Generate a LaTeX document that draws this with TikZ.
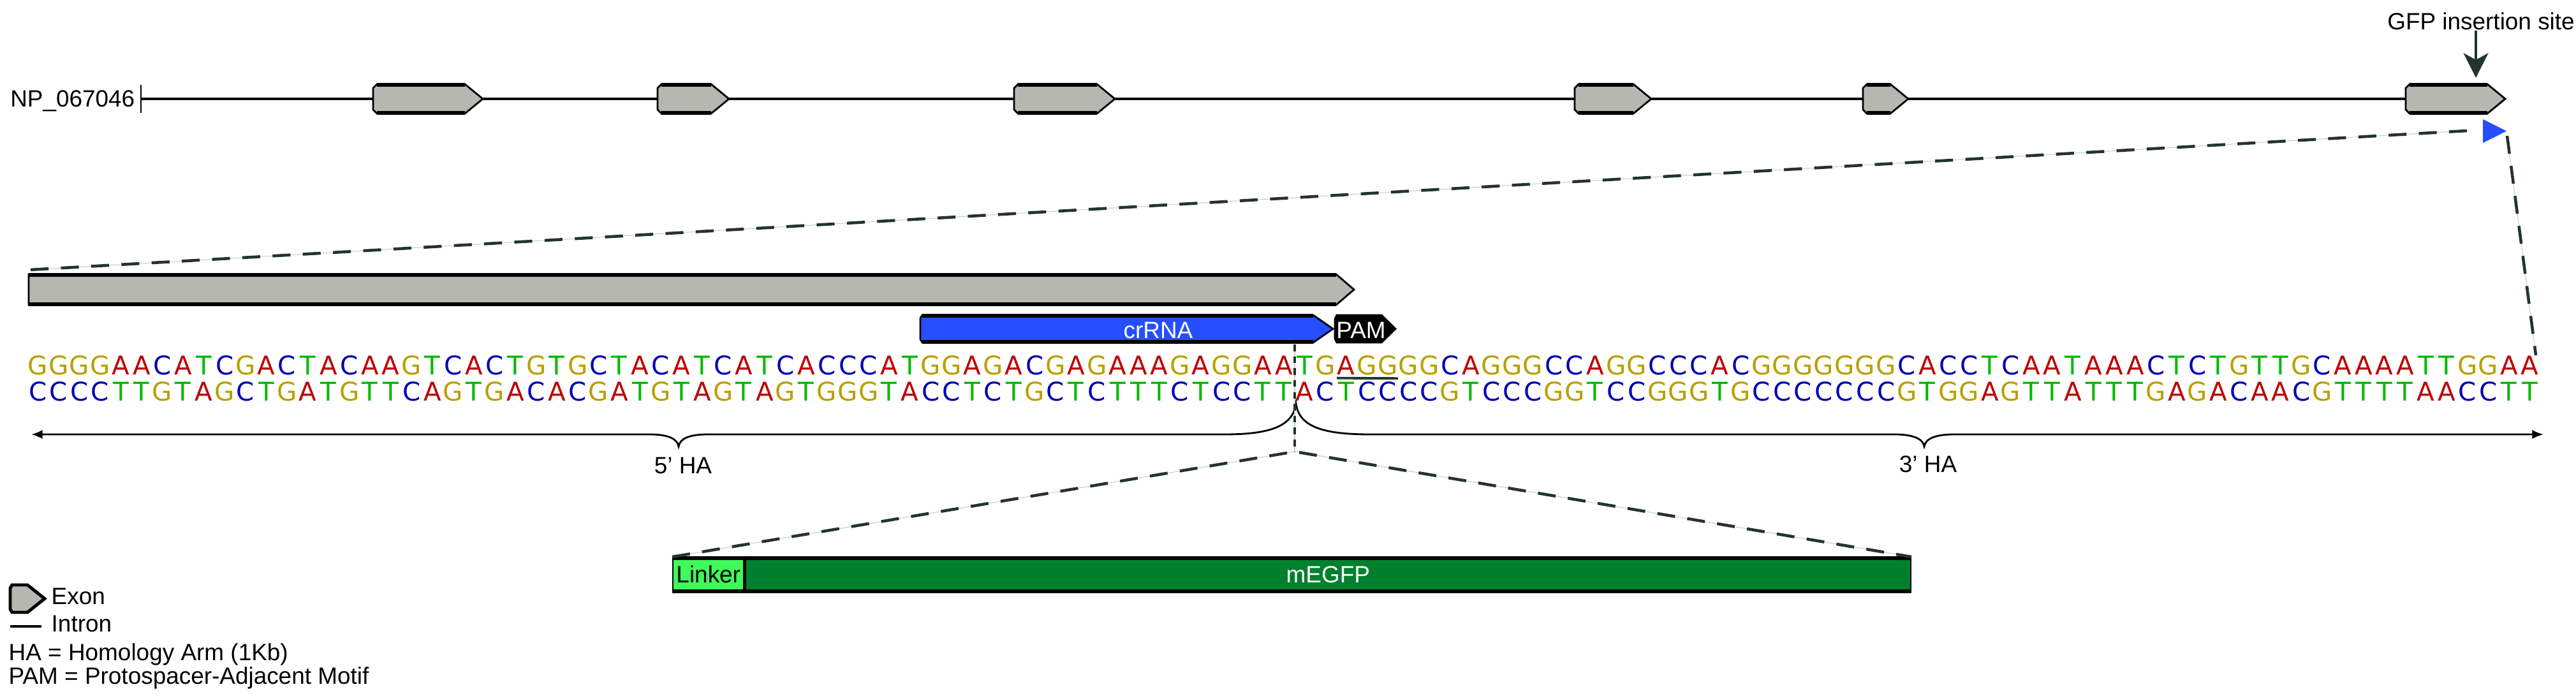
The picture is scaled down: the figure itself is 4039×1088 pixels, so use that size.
\documentclass[tikz,border=0pt]{standalone}
\usepackage{fontspec}
\setmainfont{Liberation Sans}
\newfontfamily\seqfont{DejaVu Sans}
\usetikzlibrary{arrows.meta}

\definecolor{grigio}{RGB}{182,183,177}
\definecolor{scuro}{RGB}{35,52,46}
\definecolor{blu}{RGB}{37,78,255}
\definecolor{verdechiaro}{RGB}{64,250,90}
\definecolor{verdescuro}{RGB}{0,128,45}
\definecolor{ntA}{RGB}{190,0,0}
\definecolor{ntC}{RGB}{0,0,180}
\definecolor{ntG}{RGB}{185,160,0}
\definecolor{ntT}{RGB}{0,185,0}

% basi complementari
\def\cmpA{T}\def\cmpC{G}\def\cmpG{C}\def\cmpT{A}

% filamento superiore
\def\seqtop{G,G,G,G,A,A,C,A,T,C,G,A,C,T,A,C,A,A,G,T,%
C,A,C,T,G,T,G,C,T,A,C,A,T,C,A,T,C,A,C,C,%
C,A,T,G,G,A,G,A,C,G,A,G,A,A,A,G,A,G,G,A,%
A,T,G,A,G,G,G,G,C,A,G,G,G,C,C,A,G,G,C,C,%
C,A,C,G,G,G,G,G,G,G,C,A,C,C,T,C,A,A,T,A,%
A,A,C,T,C,T,G,T,T,G,C,A,A,A,A,T,T,G,G,A,A}

\begin{document}
\begin{tikzpicture}[x=0.01cm,y=-0.01cm,
    lbl/.style={font=\fontsize{10.5}{12}\selectfont, inner sep=0pt},
    nt/.style={text=nt#1, font=\seqfont\fontsize{11.5}{12}\selectfont, inner sep=0pt},
    bordo/.style={line width=1.6pt},
    zoomline/.style={scuro, line width=1.3pt, dash pattern=on 8pt off 5.5pt,
        preaction={draw=gray!40, line width=0.3pt, solid}},
    cutline/.style={zoomline, dash pattern=on 3pt off 2.3pt},
    box/.style={draw, line width=0.7pt, inner sep=0pt, anchor=north west,
        minimum height=0.53cm, font=\fontsize{10.5}{12}\selectfont}]

    \path[use as bounding box, fill=white] (0,0) rectangle (4039,1088);

    % Gene
    \node[lbl, anchor=base east] (gene) at (212,168) {NP\_067046};
    \coordinate (np) at (221,155);
    \draw[line width=0.8pt] (221,133) -- (221,177);
    \draw[line width=1.4pt] (np) -- (3772,155);

    % Esoni
    \foreach \l/\r in {585/757,1031/1143,1590/1748,2469/2589,2921/2992,3772/3928} {
        \filldraw[fill=grigio, line width=0.8pt] (\l+6,132) -- (\r-28,132) -- (\r,155)
            -- (\r-28,178) -- (\l+6,178) -- (\l,172) -- (\l,138) -- cycle;
        \draw[bordo] (\l+6,133) -- (\r-28,133) (\l+6,177) -- (\r-28,177);
    }

    % Sito di inserzione
    \node[lbl, anchor=base] (gfp) at (3890,47) {GFP insertion site};
    \coordinate (sito) at (3882,122);
    \draw[scuro, line width=1.3pt, -{Stealth[length=11pt,width=11pt,inset=3pt]}]
        (gfp.south -| sito) -- (sito);
    \fill[blu] (3893,187) -- (3930,205.5) -- (3893,224) -- cycle;

    % Ingrandimento
    \coordinate (z1) at (3868,205);
    \coordinate (z2) at (46,423);
    \coordinate (z3) at (3931,213);
    \coordinate (z4) at (3976,557);
    \draw[zoomline] (z1) -- (z2);
    \draw[zoomline] (z3) -- (z4);

    % Esone ingrandito
    \filldraw[fill=grigio, line width=0.8pt] (45,430) -- (2095,430) -- (2123,454)
        -- (2095,478) -- (45,478) -- cycle;
    \draw[bordo] (45,431) -- (2095,431) (45,477) -- (2095,477);

    % crRNA e PAM
    \filldraw[fill=blu, line width=0.8pt] (1446,494) -- (2059,494) -- (2090,515.5)
        -- (2059,537) -- (1446,537) -- (1443,532) -- (1443,499) -- cycle;
    \draw[bordo] (1446,495) -- (2059,495) (1446,536) -- (2059,536);
    \node[lbl, text=white, anchor=base] (crrna) at (1816,530) {crRNA};
    \filldraw[fill=black, line width=0.8pt] (2096,494) -- (2166,494) -- (2188,515.5)
        -- (2166,537) -- (2096,537) -- (2093,531) -- (2093,500) -- cycle;
    \node[lbl, text=white, anchor=base] (pam) at (2134,530) {PAM};

    % Sequenza
    \foreach \b [count=\i] in \seqtop {
        \edef\comp{\csname cmp\b\endcsname}
        \node[nt=\b] (t\i) at ({43+(\i-0.5)*32.56},573) {\b};
        \node[nt=\comp] (b\i) at ({43+(\i-0.5)*32.56},614) {\comp};
    }
    \draw[scuro, line width=1.1pt] ([yshift=-1.2pt]t64.south west) -- ([yshift=-1.2pt]t66.south east);

    % Bracci di omologia
    \coordinate (la) at (49,681);
    \coordinate (ra) at (3988,681);
    \draw[line width=0.8pt, {Latex[length=5pt,width=4pt]}-{Latex[length=5pt,width=4pt]}]
        (la) -- (1018,681) .. controls (1046,681) and (1062,687) .. (1064,700)
        .. controls (1066,687) and (1082,681) .. (1110,681) -- (1920,681)
        .. controls (1992,681) and (2027,668) .. (2032,633)
        .. controls (2037,668) and (2072,681) .. (2148,681) -- (2970,681)
        .. controls (2998,681) and (3015,687) .. (3017,700)
        .. controls (3019,687) and (3036,681) .. (3064,681) -- (ra);
    \node[lbl, anchor=base] (ha5) at (1071,742) {5' HA};
    \node[lbl, anchor=base] (ha3) at (3023,740) {3' HA};

    % Taglio
    \coordinate (taglio) at (2030,540);
    \coordinate (punta) at (2030,708);
    \draw[cutline] (taglio) -- (punta);

    % Inserto
    \node[box, fill=verdechiaro, minimum width=1.11cm] (linker) at (1054,873) {Linker};
    \node[box, fill=verdescuro, text=white, minimum width=18.26cm] (megfp) at (linker.north east) {mEGFP};
    \draw[bordo] ([yshift=-0.5pt]linker.north west) -- ([yshift=-0.5pt]megfp.north east)
        ([yshift=0.5pt]linker.south west) -- ([yshift=0.5pt]megfp.south east);
    \draw[zoomline] (linker.north west) -- (punta) -- (megfp.north east);

    % Legenda
    \filldraw[fill=grigio, line width=1.4pt] (19,917) -- (43,917) -- (70,938.5) -- (43,960)
        -- (19,960) -- (16,955) -- (16,922) -- cycle;
    \node[lbl, anchor=base west] (lexon) at (80,947) {Exon};
    \draw[line width=1.3pt] (16,982) -- (65,982);
    \node[lbl, anchor=base west] (lintron) at (80,990) {Intron};
    \node[lbl, anchor=base west] (lha) at (13,1035) {HA = Homology Arm (1Kb)};
    \node[lbl, anchor=base west] (lpam) at (13,1072) {PAM = Protospacer-Adjacent Motif};

\end{tikzpicture}
\end{document}
